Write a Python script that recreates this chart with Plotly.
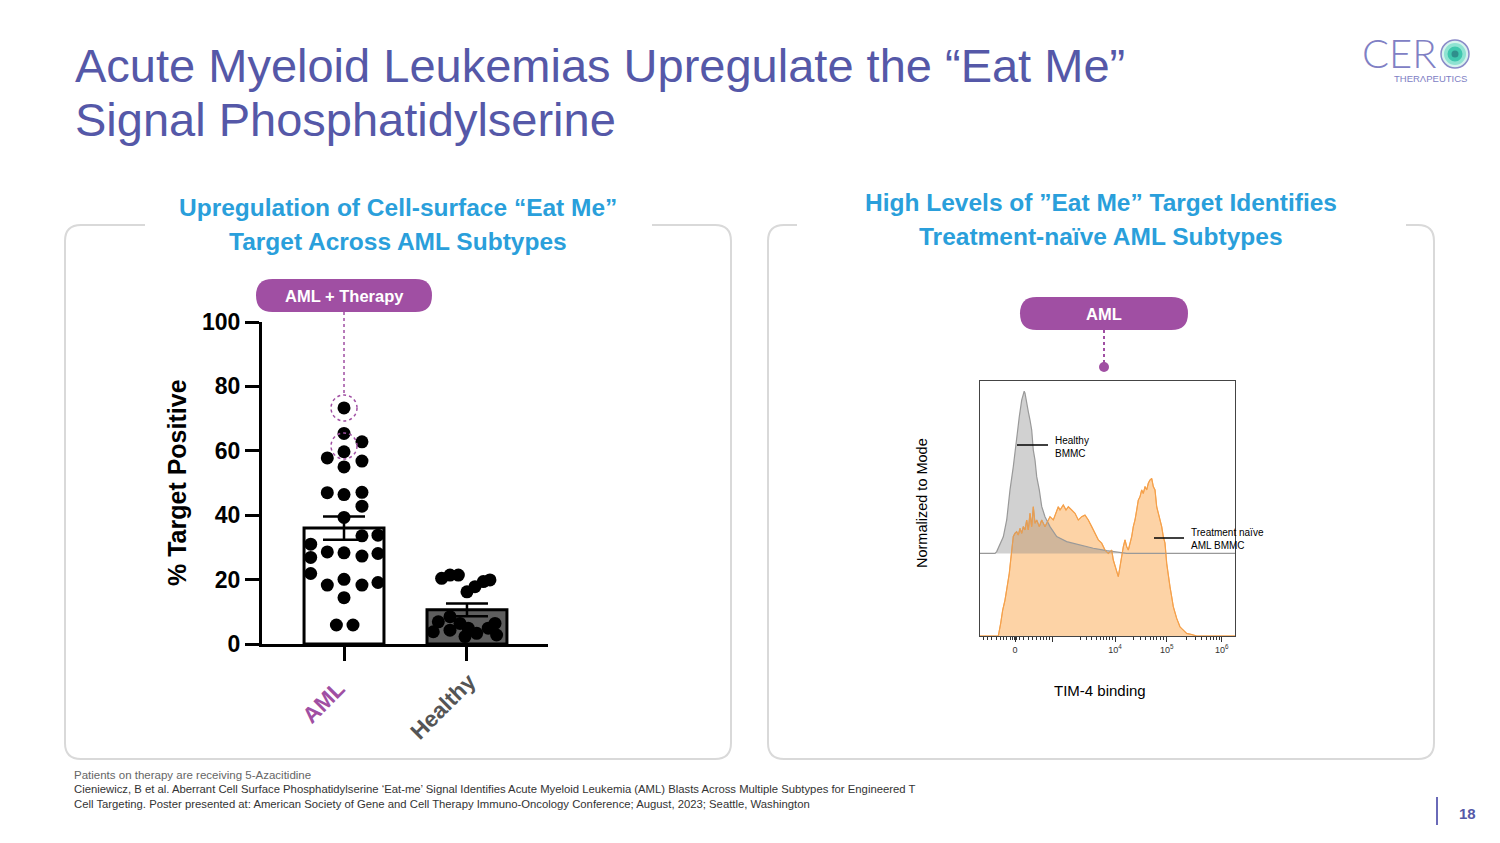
import plotly.graph_objects as go

W, H = 1500, 843

# ---------------- data ----------------
groups = ["AML", "Healthy"]
group_pos = [0, 1]
bar_means = [36.0, 10.6]
bar_sem = [3.6, 2.0]

aml_values = [73.3, 65.4, 62.8, 59.7, 57.8, 56.8, 55.0, 47.0, 46.4, 47.1, 42.8, 39.3,
              33.6, 33.8, 31.0, 28.6, 28.3, 27.3, 28.1, 26.9, 21.9, 18.3, 20.1, 18.3,
              19.1, 14.4, 5.9, 5.9]
aml_jitter = [0.0, 0.0, 0.146, 0.0, -0.136, 0.146, 0.0, -0.136, 0.0, 0.146, 0.146, 0.0,
              0.146, 0.276, -0.271, -0.136, 0.0, 0.146, 0.276, -0.271, -0.271, -0.136, 0.0, 0.146,
              0.276, 0.0, -0.062, 0.073]
healthy_values = [20.4, 21.4, 21.4, 16.2, 17.8, 19.4, 19.9, 6.9, 8.5, 6.4, 3.8, 4.3,
                  4.9, 3.3, 4.9, 6.4, 2.8, 2.3]
healthy_jitter = [-0.206, -0.138, -0.07, 0.0, 0.065, 0.133, 0.187, -0.233, -0.138, -0.057, -0.274, -0.138,
                  0.01, 0.079, 0.173, 0.228, 0.241, -0.016]
highlighted = [73.3, 61.5]  # AML + therapy samples

bar_ticks = [0, 20, 40, 60, 80, 100]

# histogram (channel units across the plot, % of mode)
healthy_x = [0, 15, 16.7, 20, 23.3, 26.7, 30, 33.3, 36.7, 39.3, 41.7, 42.5, 43.3, 44.2, 45, 45.8,
             46.7, 48.3, 50, 51.7, 53.3, 55, 56.7, 59.3, 61.7, 65, 70, 76.7, 86.7, 100, 113.3,
             126.7, 140, 146.7, 255]
healthy_y = [32.4, 32.4, 33.1, 35.7, 38.9, 45.5, 57.3, 66.4, 78.2, 86.0, 92.5, 93.8, 95.2, 96.0, 95.2, 93.0,
             91.3, 88.0, 84.7, 80.8, 72.9, 69.0, 62.5, 57.3, 50.8, 46.8, 42.9, 39.0, 37.0, 35.7, 34.4,
             33.5, 32.7, 32.4, 32.4]
healthy_base = 32.4

aml_x = [0, 18.3, 20.7, 22.7, 25, 27.3, 29.3, 30.7, 32, 33.3, 35, 36.7, 38.3, 40, 41.7, 43.3, 45,
         46.7, 48.3, 50, 51.7, 53.3, 55, 56.7, 59.3, 61.7, 63.3, 65, 66.7, 70, 73.3, 76.7, 78.3,
         80, 83.3, 86, 88.3, 91.7, 95, 98.3, 101.7, 105, 108.3, 111.7, 115, 118.3, 121.7, 125,
         128.3, 131.7, 133.3, 135, 136.7, 138.3, 140, 141.7, 143.3, 145, 146.7, 148.3, 150,
         151.7, 153.3, 155, 156.7, 158.3, 160, 161.7, 163.3, 165, 166.7, 168.3, 170, 171.7,
         173.3, 175, 176.7, 178.3, 180, 181.7, 183.3, 185, 186.7, 188.3, 190, 191.7, 193.3,
         196.7, 200, 203.3, 206.7, 211.7, 216.7, 255]
aml_y = [0, 0, 5.0, 10.2, 14.1, 19.3, 24.6, 29.8, 35.0, 39.0, 40.3, 40.9, 39.6, 42.2, 40.3, 42.9, 41.6,
         45.5, 41.6, 48.1, 42.9, 50.7, 44.2, 45.5, 42.9, 45.5, 44.2, 42.9, 44.2, 46.8, 45.5, 49.4, 50.7,
         49.4, 51.4, 49.4, 50.7, 49.4, 48.1, 45.5, 46.8, 47.4, 45.5, 42.9, 40.3, 37.7, 36.4, 33.7,
         32.4, 33.7, 29.8, 27.2, 24.6, 23.3, 27.2, 32.4, 35.0, 37.7, 35.0, 33.7, 36.4,
         39.0, 42.9, 45.5, 49.4, 53.3, 54.6, 57.3, 55.9, 58.6, 57.3, 59.9, 61.2, 61.8,
         58.6, 57.3, 50.7, 48.1, 45.5, 42.9, 39.0, 36.4, 28.5, 23.3, 19.3, 15.4, 11.5,
         6.9, 3.6, 2.3, 1.0, 0.6, 0, 0]

hist_major_ticks = [35, 72.3, 135, 186.7, 241.7]
hist_major_labels = ["0", " ", "10<sup>4</sup>", "10<sup>5</sup>", "10<sup>6</sup>"]
hist_minor_ticks = [3.3, 7.3, 11.7, 16, 20, 23.3, 26.7, 30, 32.3, 34.3, 36.7, 39, 43.3, 48.3, 52.7,
                    56.7, 60, 63.3, 66.7, 69.3, 100, 106.7, 111.7, 116.7, 120, 123.3, 126.7, 129.3,
                    132, 153.3, 160, 165, 170, 173.3, 176.7, 180, 183.3, 206.7, 215, 221.7, 226.7,
                    230, 233.3, 236.7, 239.3]

# ---------------- helpers ----------------
def px(x):
    return x / W

def py(y):
    return 1 - y / H

def P(x, y):
    return f"{px(x):.5f},{py(y):.5f}"

def rounded_rect(x0, y0, x1, y1, r):
    return (f"M {P(x0 + r, y0)} L {P(x1 - r, y0)} Q {P(x1, y0)} {P(x1, y0 + r)} "
            f"L {P(x1, y1 - r)} Q {P(x1, y1)} {P(x1 - r, y1)} L {P(x0 + r, y1)} "
            f"Q {P(x0, y1)} {P(x0, y1 - r)} L {P(x0, y0 + r)} Q {P(x0, y0)} {P(x0 + r, y0)} Z")

def open_panel(x0, y0, x1, y1, r, gap0, gap1):
    return (f"M {P(gap1, y0)} L {P(x1 - r, y0)} Q {P(x1, y0)} {P(x1, y0 + r)} "
            f"L {P(x1, y1 - r)} Q {P(x1, y1)} {P(x1 - r, y1)} L {P(x0 + r, y1)} "
            f"Q {P(x0, y1)} {P(x0, y1 - r)} L {P(x0, y0 + r)} Q {P(x0, y0)} {P(x0 + r, y0)} "
            f"L {P(gap0, y0)}")

FONT = "Liberation Sans, Arial, sans-serif"
annotations = []

def ann(text, x, y, size, color, xanchor="center", yanchor="middle", weight="normal",
        family=FONT, angle=0, align="center"):
    annotations.append(dict(text=text, x=px(x), y=py(y), xref="paper", yref="paper",
                            xanchor=xanchor, yanchor=yanchor, showarrow=False, textangle=angle,
                            align=align,
                            font=dict(size=size, color=color, family=family, weight=weight)))

PURPLE = "#a04fa3"
TITLE = "#5558a8"
CYAN = "#2a9fdb"

fig = go.Figure()

# ---------------- bar chart ----------------
fig.add_trace(go.Bar(x=group_pos, y=bar_means, width=0.65,
                     marker=dict(color=["white", "#5e5e5e"], line=dict(color="black", width=3)),
                     error_y=dict(type="data", array=bar_sem, visible=True, thickness=2.5,
                                  width=21, color="black"),
                     xaxis="x", yaxis="y", hoverinfo="skip"))
fig.add_trace(go.Scatter(x=[group_pos[0] + j for j in aml_jitter], y=aml_values, mode="markers",
                         marker=dict(size=13, color="black"), xaxis="x", yaxis="y"))
fig.add_trace(go.Scatter(x=[group_pos[1] + j for j in healthy_jitter], y=healthy_values,
                         mode="markers", marker=dict(size=13, color="black"), xaxis="x", yaxis="y"))

# ---------------- histogram ----------------
fig.add_trace(go.Scatter(x=aml_x, y=aml_y, mode="lines", fill="tozeroy", fillcolor="#fdd3a6",
                         line=dict(color="#f5a04a", width=1.2), xaxis="x2", yaxis="y2"))
fig.add_trace(go.Scatter(x=[healthy_x[0], healthy_x[-1]], y=[healthy_base, healthy_base],
                         mode="lines", line=dict(width=0), xaxis="x2", yaxis="y2"))
fig.add_trace(go.Scatter(x=healthy_x, y=healthy_y, mode="lines", fill="tonexty",
                         fillcolor="rgba(140,140,140,0.4)", line=dict(color="#999999", width=1.2),
                         xaxis="x2", yaxis="y2"))
fig.add_trace(go.Scatter(x=aml_x, y=aml_y, mode="lines", line=dict(color="rgba(245,160,74,0.8)", width=1),
                         xaxis="x2", yaxis="y2"))

shapes = []
# panels
shapes.append(dict(type="path", xref="paper", yref="paper",
                   path=open_panel(65, 225, 731, 759, 16, 145, 652),
                   line=dict(color="#d9d9d9", width=2)))
shapes.append(dict(type="path", xref="paper", yref="paper",
                   path=open_panel(768, 225, 1434, 759, 16, 797, 1406),
                   line=dict(color="#d9d9d9", width=2)))
# pills
shapes.append(dict(type="path", xref="paper", yref="paper", path=rounded_rect(256, 279, 432, 312, 16.5),
                   fillcolor=PURPLE, line=dict(width=0)))
shapes.append(dict(type="path", xref="paper", yref="paper", path=rounded_rect(1020, 297, 1188, 330, 16.5),
                   fillcolor=PURPLE, line=dict(width=0)))
# connector left
shapes.append(dict(type="line", xref="x", yref="paper", x0=group_pos[0], x1=group_pos[0],
                   y0=py(312), y1=py(394), line=dict(color=PURPLE, width=1.5, dash="dot")))
for v in highlighted:
    shapes.append(dict(type="circle", xref="x", yref="y", xsizemode="pixel", ysizemode="pixel",
                       xanchor=group_pos[0], yanchor=v, x0=-13, x1=13, y0=-13, y1=13,
                       line=dict(color=PURPLE, width=1.5, dash="dot")))
# connector right
shapes.append(dict(type="line", xref="paper", yref="paper", x0=px(1104), x1=px(1104),
                   y0=py(330), y1=py(363), line=dict(color=PURPLE, width=2, dash="dot")))
shapes.append(dict(type="circle", xref="paper", yref="paper", x0=px(1099), x1=px(1109),
                   y0=py(372), y1=py(362), fillcolor=PURPLE, line=dict(width=0)))
# histogram labels lines
shapes.append(dict(type="line", xref="paper", yref="paper", x0=px(1017), x1=px(1048),
                   y0=py(445), y1=py(445), line=dict(color="black", width=1.5)))
shapes.append(dict(type="line", xref="paper", yref="paper", x0=px(1154), x1=px(1184),
                   y0=py(538), y1=py(538), line=dict(color="black", width=1.5)))
# page number bar
shapes.append(dict(type="line", xref="paper", yref="paper", x0=px(1437), x1=px(1437),
                   y0=py(797), y1=py(825), line=dict(color="#6a6ab8", width=2)))
# logo O
for r, col in [(14, "#d6f3ee"), (11, "#8fe3d2"), (7.5, "#3fc7ae"), (3.5, "#2f8f8c")]:
    shapes.append(dict(type="circle", xref="paper", yref="paper", x0=px(1455 - r), x1=px(1455 + r),
                       y0=py(54 + r), y1=py(54 - r), fillcolor=col, line=dict(width=0)))
shapes.append(dict(type="circle", xref="paper", yref="paper", x0=px(1441), x1=px(1469),
                   y0=py(68), y1=py(40), line=dict(color="#8a8ac8", width=1.5)))

# ---------------- text ----------------
ann("Acute Myeloid Leukemias Upregulate the “Eat Me”", 73, 66, 47, TITLE, xanchor="left")
ann("Signal Phosphatidylserine", 73, 120, 47, TITLE, xanchor="left")

ann("Upregulation of Cell-surface “Eat Me”", 398, 207, 24.5, CYAN, weight="bold")
ann("Target Across AML Subtypes", 398, 241, 24.5, CYAN, weight="bold")
ann("High Levels of ”Eat Me” Target Identifies", 1101, 202, 24.5, CYAN, weight="bold")
ann("Treatment-naïve AML Subtypes", 1101, 236, 24.5, CYAN, weight="bold")

ann("AML + Therapy", 344, 296, 16.5, "white", weight="bold")
ann("AML", 1104, 314, 16.5, "white", weight="bold")

ann("% Target Positive", 177, 483, 25, "black", weight="bold", angle=-90)
ann("AML", 323, 702, 22.5, PURPLE, weight="bold", angle=-45)
ann("Healthy", 443, 706, 22.5, "#555555", weight="bold", angle=-45)

ann("Normalized to Mode", 922, 503, 14.5, "black", angle=-90)
ann("TIM-4 binding", 1100, 690, 15, "black")
ann("Healthy<br>BMMC", 1053, 447, 10, "black", xanchor="left", align="left")
ann("Treatment naïve<br>AML BMMC", 1189, 539, 10, "black", xanchor="left", align="left")

ann("Patients on therapy are receiving 5-Azacitidine", 72, 775, 11.5, "#666666", xanchor="left")
ann("Cieniewicz, B et al. Aberrant Cell Surface Phosphatidylserine ‘Eat-me’ Signal Identifies Acute "
    "Myeloid Leukemia (AML) Blasts Across Multiple Subtypes for Engineered T", 72, 789, 11.3, "#333333",
    xanchor="left")
ann("Cell Targeting. Poster presented at: American Society of Gene and Cell Therapy Immuno-Oncology "
    "Conference; August, 2023; Seattle, Washington", 72, 804, 11.3, "#333333", xanchor="left")

ann("18", 1467, 813, 15, TITLE, weight="bold")

ann("CER", 1399, 53, 40, "#8080c4", family="Lato, sans-serif", weight=300)
ann("THERΛPEUTICS", 1430, 78, 9.5, "#8080c4")

# ---------------- layout ----------------
fig.update_layout(
    width=W, height=H, margin=dict(l=0, r=0, t=0, b=0, pad=0, autoexpand=False),
    paper_bgcolor="white", plot_bgcolor="white", showlegend=False,
    font=dict(family=FONT),
    xaxis=dict(domain=[px(262), px(548)], range=[-0.667, 1.659], showline=True, linewidth=3,
               linecolor="black", ticks="outside", ticklen=14, tickwidth=3, tickcolor="black",
               tickvals=group_pos, showticklabels=False, showgrid=False, zeroline=False,
               automargin=False),
    yaxis=dict(domain=[py(644), py(322)], range=[0, 100], showline=True, linewidth=3,
               linecolor="black", ticks="outside", ticklen=14, tickwidth=3, tickcolor="black",
               tickvals=bar_ticks, tickfont=dict(size=23, color="black", weight="bold"),
               showgrid=False, zeroline=False, automargin=False),
    xaxis2=dict(domain=[px(980), px(1235)], range=[0, 255], showline=True, mirror=True,
                linewidth=1, linecolor="#444444", ticks="outside", ticklen=5, tickwidth=1,
                tickcolor="#333333", tickvals=hist_major_ticks, ticktext=hist_major_labels,
                tickfont=dict(size=9, color="#333333"),
                minor=dict(tickmode="array", tickvals=hist_minor_ticks, ticks="outside",
                           ticklen=3, tickcolor="#333333", tickwidth=1),
                showgrid=False, zeroline=False, anchor="y2", automargin=False),
    yaxis2=dict(domain=[py(636), py(381)], range=[0, 100], showline=True, mirror=True,
                linewidth=1, linecolor="#444444", showticklabels=False, ticks="",
                showgrid=False, zeroline=False, anchor="x2", automargin=False),
    shapes=shapes, annotations=annotations,
)

fig.write_html("out.html", config={"displayModeBar": False},
               post_script="document.body.style.margin='0';")
